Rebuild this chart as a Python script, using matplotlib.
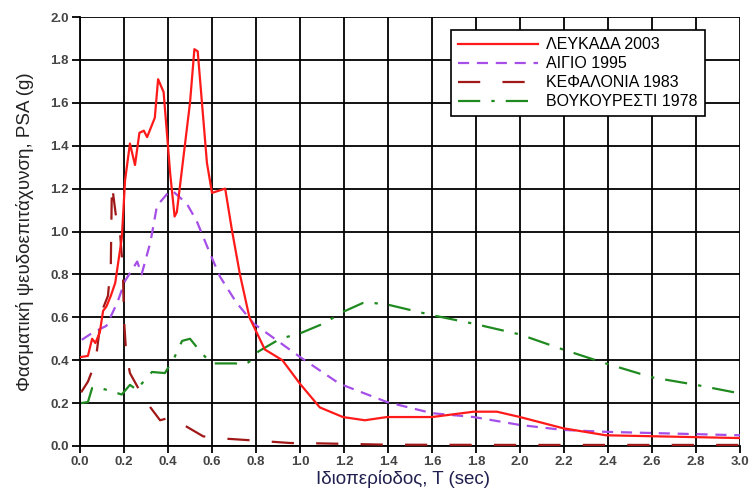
import matplotlib
matplotlib.use("Agg")
import matplotlib.pyplot as plt
import numpy as np

plt.rcParams['font.family'] = ['Liberation Sans', 'DejaVu Sans']

# ΛΕΥΚΑΔΑ 2003
lef_T = [0.005, 0.036, 0.055, 0.07, 0.09, 0.105, 0.12, 0.14, 0.16, 0.19, 0.2, 0.205, 0.227, 0.25,
         0.27, 0.29, 0.305, 0.34, 0.355, 0.38, 0.41, 0.43, 0.44, 0.5, 0.52, 0.535, 0.577, 0.6,
         0.66, 0.69, 0.727, 0.77, 0.84, 0.92, 1.0, 1.09, 1.195, 1.295, 1.395, 1.6, 1.79, 1.895,
         2.0, 2.195, 2.39, 3.0]
lef_V = [0.415, 0.42, 0.50, 0.48, 0.53, 0.63, 0.65, 0.70, 0.76, 0.97, 1.15, 1.24, 1.41, 1.31,
         1.46, 1.47, 1.44, 1.53, 1.71, 1.65, 1.27, 1.07, 1.09, 1.60, 1.85, 1.84, 1.32, 1.18,
         1.20, 1.01, 0.80, 0.60, 0.45, 0.40, 0.29, 0.18, 0.135, 0.12, 0.135, 0.135, 0.16, 0.16,
         0.135, 0.083, 0.05, 0.037]

# ΑΙΓΙΟ 1995
aig_T = [0.008, 0.06, 0.12, 0.17, 0.205, 0.26, 0.28, 0.32, 0.35, 0.4, 0.42, 0.485, 0.53, 0.59,
         0.636, 0.71, 0.79, 1.0, 1.18, 1.395, 1.6, 1.79, 2.0, 2.195, 2.39, 3.0]
aig_V = [0.495, 0.53, 0.56, 0.67, 0.77, 0.86, 0.80, 0.95, 1.12, 1.18, 1.19, 1.13, 1.05, 0.90,
         0.79, 0.67, 0.57, 0.415, 0.29, 0.205, 0.153, 0.135, 0.098, 0.075, 0.066, 0.05]

# ΚΕΦΑΛΟΝΙΑ 1983
kef_T = [0.005, 0.036, 0.07, 0.1, 0.127, 0.14, 0.145, 0.17, 0.18, 0.195, 0.2, 0.21, 0.227, 0.27,
         0.32, 0.364, 0.4, 0.485, 0.56, 0.65, 0.8, 0.955, 1.1, 1.4, 2.0, 3.0]
kef_V = [0.25, 0.30, 0.39, 0.63, 0.70, 0.84, 1.22, 1.02, 1.02, 0.82, 0.59, 0.43, 0.34, 0.26,
         0.18, 0.12, 0.13, 0.09, 0.045, 0.035, 0.025, 0.014, 0.012, 0.006, 0.005, 0.005]

# ΒΟΥΚΟΥΡΕΣΤΙ 1978
bou_T = [0.005, 0.036, 0.055, 0.075, 0.127, 0.19, 0.227, 0.26, 0.28, 0.327, 0.386, 0.43, 0.464,
         0.5, 0.555, 0.6, 0.645, 0.705, 0.75, 0.78, 0.81, 0.91, 1.0, 1.105, 1.195, 1.286, 1.33,
         1.395, 1.6, 1.79, 2.0, 2.195, 2.39, 2.6, 2.8, 3.0]
bou_V = [0.20, 0.205, 0.27, 0.275, 0.26, 0.24, 0.285, 0.26, 0.29, 0.345, 0.34, 0.415, 0.49,
         0.50, 0.43, 0.385, 0.385, 0.385, 0.38, 0.40, 0.44, 0.50, 0.525, 0.57, 0.625, 0.667, 0.667,
         0.66, 0.61, 0.57, 0.52, 0.45, 0.385, 0.32, 0.285, 0.245]

labels = ["ΛΕΥΚΑΔΑ 2003", "ΑΙΓΙΟ 1995", "ΚΕΦΑΛΟΝΙΑ 1983", "ΒΟΥΚΟΥΡΕΣΤΙ 1978"]
x_ticks = [round(0.2 * i, 1) for i in range(16)]
y_ticks = [round(0.2 * i, 1) for i in range(11)]

fig = plt.figure(figsize=(7.52, 4.92), dpi=100)
ax = fig.add_axes([80 / 752, 1 - 446 / 492, 660 / 752, 429 / 492])

ax.plot(lef_T, lef_V, color='#ff1a1a', lw=1.6, label=labels[0], zorder=5)
ax.plot(aig_T, aig_V, color='#a64ee8', lw=1.6, ls=(0, (5, 3.5)), label=labels[1], zorder=4)
ax.plot(kef_T, kef_V, color='#a01818', lw=1.6, ls=(0, (10, 10)), label=labels[2], zorder=4)
ax.plot(bou_T, bou_V, color='#1f8a1f', lw=1.6, ls=(0, (10, 5, 1.5, 5)), label=labels[3], zorder=4)

ax.set_xlim(0, 3.0)
ax.set_ylim(0, 2.0)
ax.set_xticks(x_ticks)
ax.set_yticks(y_ticks)
ax.set_xticklabels([f"{v:.1f}" for v in x_ticks])
ax.set_yticklabels([f"{v:.1f}" for v in y_ticks])
ax.grid(True, color='black', lw=1.3)
ax.set_axisbelow(True)
for s in ax.spines.values():
    s.set_visible(False)
ax.spines['left'].set_visible(True)
ax.spines['bottom'].set_visible(True)
ax.spines['left'].set_linewidth(1.3)
ax.spines['bottom'].set_linewidth(1.3)
ax.tick_params(direction='out', length=6, width=1.3, labelsize=9.5)
ax.tick_params(axis='x', length=5, pad=2)
ax.tick_params(axis='y', pad=2)
ax.tick_params(axis='both', colors='black', labelcolor='#444444')
for lab in ax.get_xticklabels() + ax.get_yticklabels():
    lab.set_fontweight('bold')

ax.set_xlabel("Ιδιοπερίοδος, T (sec)", fontsize=13.5, color='#202050')
ax.xaxis.set_label_coords(0.49, -0.056)
ax.set_ylabel("Φασματική ψευδοεπιτάχυνση, PSA (g)", fontsize=13.5, color='#222222', labelpad=12)

leg = ax.legend(loc='upper right', bbox_to_anchor=((705 - 80) / 660, (446 - 30) / 429),
                borderaxespad=0, fontsize=11.5, frameon=True, fancybox=False, edgecolor='black',
                framealpha=1, handlelength=5.0, handletextpad=0.5, borderpad=0.45,
                labelspacing=0.25)
leg.get_frame().set_linewidth(1.2)

fig.savefig("out.png", dpi=100)
